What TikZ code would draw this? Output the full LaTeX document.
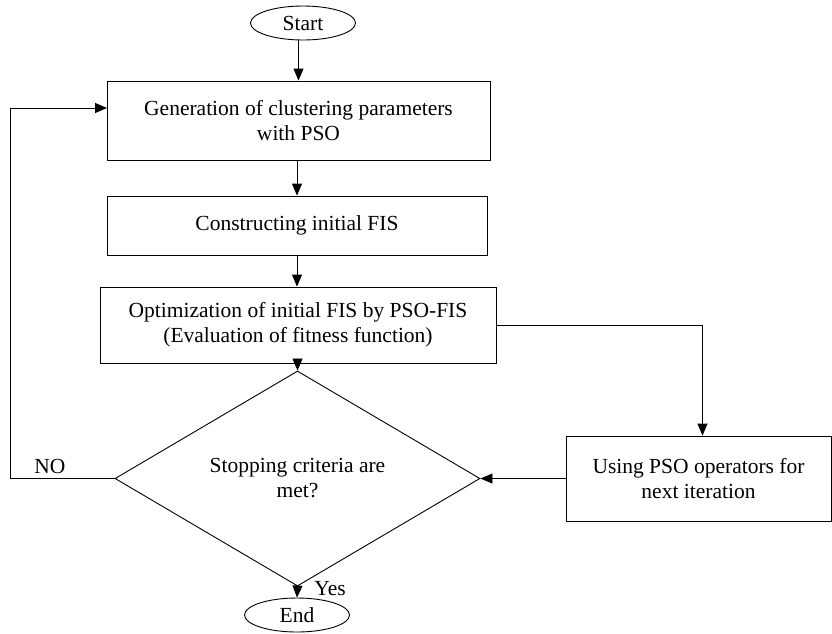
\documentclass[tikz,border=0pt]{standalone}
\usepackage{fontspec}
\setmainfont{Liberation Serif}
\usetikzlibrary{shapes.geometric,arrows.meta,positioning}

\begin{document}
\begin{tikzpicture}[x=1pt, y=-1pt, line width=0.9pt,
  font=\fontsize{21.5}{25}\selectfont,
  terminal/.style={ellipse, draw, minimum width=105pt, minimum height=34pt, inner sep=0pt},
  process/.style={rectangle, draw, align=center, inner sep=0pt},
  decision/.style={diamond, draw, align=center, inner sep=0pt, minimum width=365pt, minimum height=163pt},
  flow/.style={-{Triangle[length=12pt,width=10pt]}}]
\useasboundingbox (0,0) rectangle (832,633);
\node[terminal] (start) at (303,23) {Start};
\node[process, minimum width=383pt, minimum height=79pt] (gen) at (298.5,120.5) {Generation of clustering parameters\\with PSO};
\node[process, minimum width=380pt, minimum height=59pt] (constr) at (297,225.5) {Constructing initial FIS};
\node[process, minimum width=396pt, minimum height=76pt] (optim) at (298,325) {Optimization of initial FIS by PSO-FIS\\(Evaluation of fitness function)};
\node[decision] (decide) at (297.5,478.5) {Stopping criteria are\\met?};
\node[process, minimum width=265pt, minimum height=85pt] (using) at (698.5,478.5) {Using PSO operators for\\next iteration};
\node[terminal] (end) at (297,615) {End};
\node (no) at (50,466) {NO};
\node[right, inner sep=0pt] (yes) at (314,589) {Yes};
\coordinate (loopx) at (10,0);
\coordinate (genin) at (107,108);

\draw[flow] (start.south -| gen.north) -- (gen.north);
\draw[flow] (gen.south -| constr.north) -- (constr.north);
\draw[flow] (constr.south) -- (constr.south |- optim.north);
\draw[flow] (optim.south -| decide.north) -- (decide.north);
\draw[flow] (decide.south) -- (end.north);
\draw[flow] (optim.east) -| ([xshift=4pt]using.north);
\draw[flow] (using.west) -- (decide.east);
\draw[flow] (decide.west) -- (decide.west -| loopx) |- (genin);
\end{tikzpicture}
\end{document}
